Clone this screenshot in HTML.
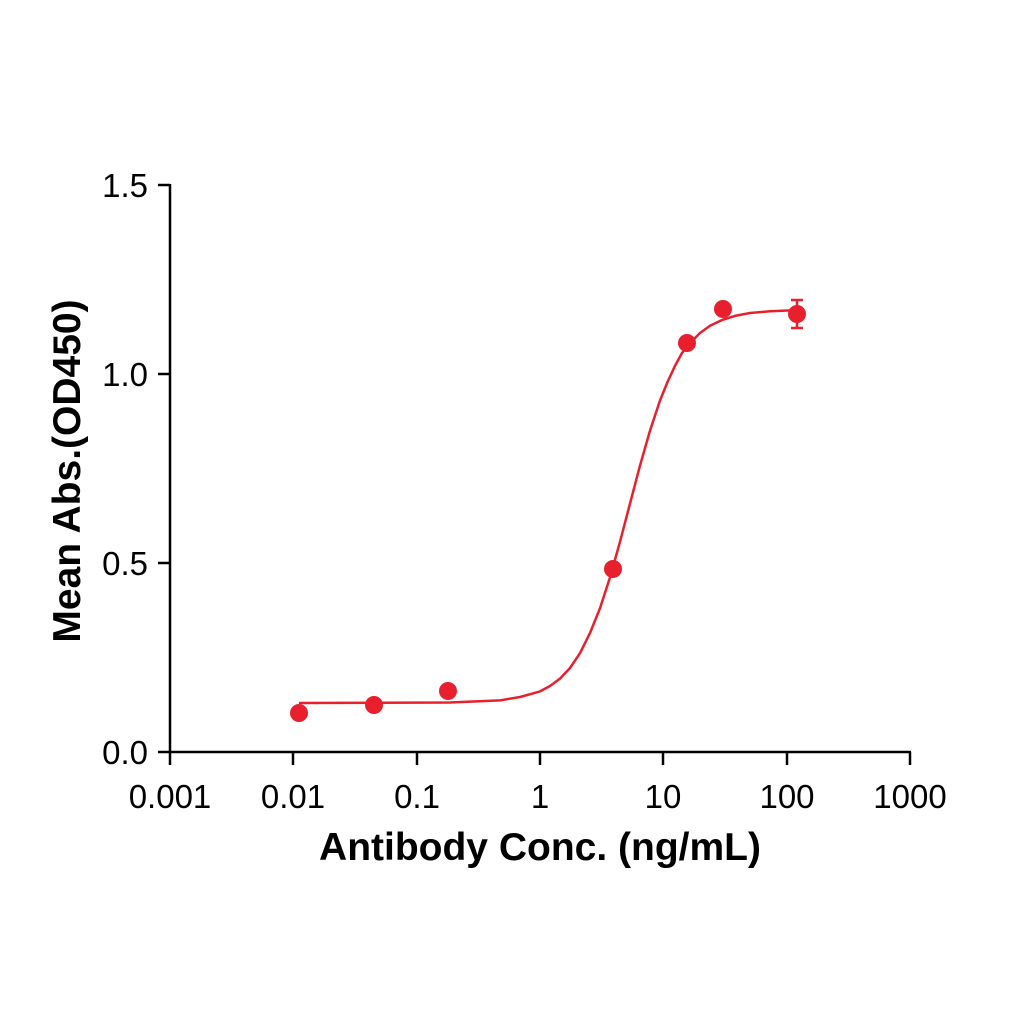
<!DOCTYPE html>
<html><head><meta charset="utf-8"><style>
body{margin:0;background:#fff}
svg{display:block}
text{font-family:"Liberation Sans",Arial,sans-serif;fill:#000}
</style></head><body>
<svg width="1024" height="1024" viewBox="0 0 1024 1024" xmlns="http://www.w3.org/2000/svg">
<g stroke="#000" stroke-width="2.5" fill="none">
<line x1="170" y1="184" x2="170" y2="753"/>
<line x1="169" y1="752" x2="911" y2="752"/>
<line x1="158" y1="185" x2="170" y2="185"/>
<line x1="158" y1="374" x2="170" y2="374"/>
<line x1="158" y1="563" x2="170" y2="563"/>
<line x1="158" y1="752" x2="170" y2="752"/>
<line x1="170" y1="752" x2="170" y2="765"/>
<line x1="293" y1="752" x2="293" y2="765"/>
<line x1="417" y1="752" x2="417" y2="765"/>
<line x1="540" y1="752" x2="540" y2="765"/>
<line x1="663" y1="752" x2="663" y2="765"/>
<line x1="787" y1="752" x2="787" y2="765"/>
<line x1="910" y1="752" x2="910" y2="765"/>
</g>
<g font-size="33" text-anchor="end">
<text x="148" y="197">1.5</text>
<text x="148" y="386">1.0</text>
<text x="148" y="575">0.5</text>
<text x="148" y="764">0.0</text>
</g>
<g font-size="33" text-anchor="middle">
<text x="170" y="808">0.001</text>
<text x="293" y="808">0.01</text>
<text x="417" y="808">0.1</text>
<text x="540" y="808">1</text>
<text x="663" y="808">10</text>
<text x="787" y="808">100</text>
<text x="910" y="808">1000</text>
</g>
<text x="540" y="860" font-size="39" font-weight="bold" text-anchor="middle">Antibody Conc. (ng/mL)</text>
<text transform="translate(80,471) rotate(-90)" font-size="39" font-weight="bold" text-anchor="middle">Mean Abs.(OD450)</text>
<path fill="none" stroke="#e8202e" stroke-width="2.5" stroke-linejoin="round" d="M299,703 L450,702.5 L500,700.4 L520,697 L540,691.4 L550,686 L560,678.6 L570,668 L580,653.2 L590,633 L600,608.2 L610,577.4 L620,541.8 L630,503.6 L640,465.6 L650,430.7 L660,400.5 L667.5,382 L675,365.9 L682,353 L690,343.1 L700,333 L710,325.7 L722,320 L735,315.9 L750,313 L770,311.3 L797,310.1"/>
<g stroke="#e8202e" stroke-width="2.5">
<line x1="797" y1="300" x2="797" y2="328"/>
<line x1="791" y1="300" x2="803" y2="300"/>
<line x1="791" y1="328" x2="803" y2="328"/>
</g>
<g fill="#e8202e">
<circle cx="299" cy="713" r="9"/>
<circle cx="374" cy="705" r="9"/>
<circle cx="448" cy="691" r="9"/>
<circle cx="613" cy="569" r="9"/>
<circle cx="687" cy="343" r="9"/>
<circle cx="723" cy="309" r="9"/>
<circle cx="797" cy="314" r="9"/>
</g>
</svg>
</body></html>
